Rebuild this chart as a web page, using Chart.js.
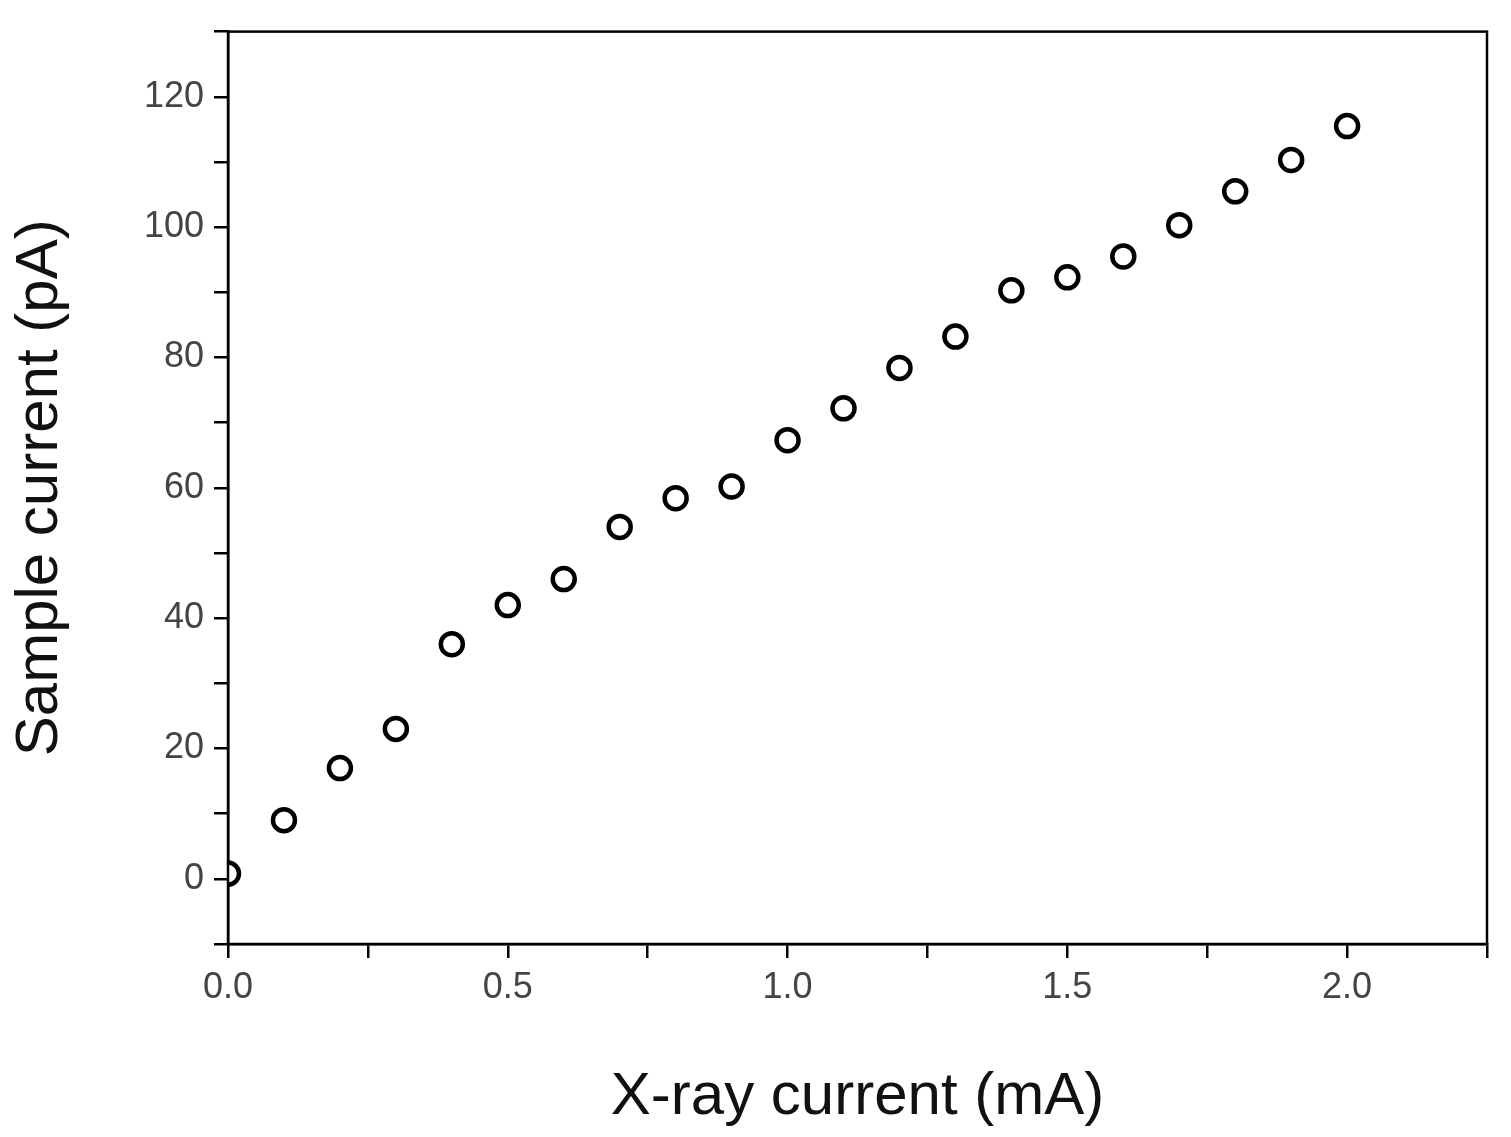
<!DOCTYPE html>
<html>
<head>
<meta charset="utf-8">
<script src="https://cdn.jsdelivr.net/npm/chart.js@4"></script>
<style>
  html, body { margin: 0; padding: 0; background: #fff; overflow: hidden; }
</style>
</head>
<body>
<canvas id="myChart" width="1511" height="1137"></canvas>
<script>
// values
const xrayCurrent = [0, 0.1, 0.2, 0.3, 0.4, 0.5, 0.6, 0.7, 0.8, 0.9, 1.0, 1.1, 1.2, 1.3, 1.4, 1.5, 1.6, 1.7, 1.8, 1.9, 2.0];
const sampleCurrent = [0.8, 9, 17, 23, 36, 42, 46, 54, 58.4, 60.2, 67.3, 72.2, 78.4, 83.2, 90.3, 92.3, 95.5, 100.3, 105.5, 110.3, 115.5];
const xLabels = [0, 0.5, 1.0, 1.5, 2.0];
const yLabels = [0, 20, 40, 60, 80, 100, 120];

const points = xrayCurrent.map((x, i) => ({ x: x, y: sampleCurrent[i] }));

// draws the frame around the plot area (top and right sides)
const framePlugin = {
  id: 'frame',
  afterDraw(chart) {
    const a = chart.chartArea;
    const c = chart.ctx;
    c.save();
    c.strokeStyle = '#000';
    c.lineWidth = 2.5;
    c.strokeRect(a.left, a.top, a.right - a.left, a.bottom - a.top);
    c.restore();
  }
};

const tickFont = { family: 'Liberation Sans, Arial, sans-serif', size: 36 };
const titleFont = { family: 'Liberation Sans, Arial, sans-serif', size: 60 };

const ctx = document.getElementById('myChart').getContext('2d');
const myChart = new Chart(ctx, {
  type: 'scatter',
  data: {
    datasets: [{
      data: points,
      pointRadius: 11,
      pointBorderWidth: 4.5,
      pointBorderColor: '#000',
      pointBackgroundColor: '#fff'
    }]
  },
  options: {
    responsive: false,
    animation: false,
    devicePixelRatio: 1,
    layout: { padding: { top: 18, right: 24, left: 0, bottom: 0 } },
    plugins: { legend: { display: false }, tooltip: { enabled: false } },
    scales: {
      x: {
        type: 'linear',
        min: 0,
        max: 2.25,
        afterFit(scale) { scale.height = 193; },
        ticks: {
          stepSize: 0.25,
          color: '#444',
          font: tickFont,
          padding: 8,
          maxRotation: 0,
          autoSkip: false,
          callback: v => xLabels.some(l => Math.abs(l - v) < 1e-6) ? v.toFixed(1) : ''
        },
        grid: { drawOnChartArea: false, color: '#000', tickLength: 14, lineWidth: 2.5 },
        border: { color: '#000', width: 2.5 },
        title: { display: true, text: 'X-ray current (mA)', color: '#111', font: titleFont, padding: { top: 10 } }
      },
      y: {
        type: 'linear',
        min: -10,
        max: 130,
        afterFit(scale) { scale.width = 228; },
        ticks: {
          stepSize: 10,
          color: '#444',
          font: tickFont,
          padding: 10,
          autoSkip: false,
          callback: v => yLabels.includes(v) ? String(v) : ''
        },
        grid: { drawOnChartArea: false, color: '#000', tickLength: 14, lineWidth: 2.5 },
        border: { color: '#000', width: 2.5 },
        title: { display: true, text: 'Sample current (pA)', color: '#111', font: titleFont, padding: { bottom: 10 } }
      }
    }
  },
  plugins: [framePlugin]
});
</script>
</body>
</html>
